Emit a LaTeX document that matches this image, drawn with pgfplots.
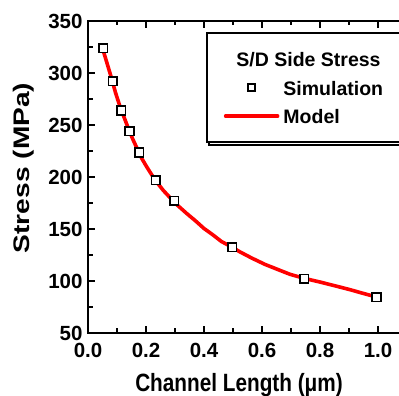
\documentclass[border=0pt]{standalone}
\usepackage{pgfplots}
\pgfplotsset{compat=1.18}
\usepackage{fontspec}
\setmainfont{Liberation Sans}

\begin{document}
\begin{tikzpicture}
\begin{axis}[
  scale only axis,
  width=319pt, height=312pt,
  xmin=0, xmax=1.1,
  ymin=50, ymax=350,
  clip=false,
  xtick={0,0.2,0.4,0.6,0.8,1.0},
  ytick={50,100,150,200,250,300,350},
  minor x tick num=1,
  minor y tick num=1,
  tick align=inside,
  major tick length=7pt,
  minor tick length=4.5pt,
  axis line style={line width=1.6pt},
  every tick/.style={black, line width=1.5pt},
  /pgf/number format/assume math mode=true,
  xticklabel style={font=\bfseries\fontsize{20.5}{21}\selectfont, yshift=-6.5pt,
    /pgf/number format/.cd, fixed, fixed zerofill, precision=1},
  yticklabel style={font=\bfseries\fontsize{20.5}{21}\selectfont, xshift=-2pt},
  xlabel={\scalebox{0.83}[1]{Channel Length (μm)}},
  ylabel={\scalebox{1.25}[1]{Stress (MPa)}},
  xlabel style={font=\bfseries\fontsize{25}{26}\selectfont,
    at={(axis description cs:0.4734,-0.189)}, anchor=base},
  ylabel style={font=\bfseries\fontsize{22.5}{24}\selectfont,
    at={(axis description cs:-0.2006,0.529)}, anchor=center},
  legend style={
    at={(axis description cs:0.370,0.9647)}, anchor=north west,
    draw=black, line width=1.6pt, fill=white,
    inner xsep=17pt, inner ysep=14pt,
    row sep=4.7pt, column sep=4pt,
    font=\bfseries\fontsize{19.5}{21}\selectfont,
    cells={anchor=west},
    nodes={inner sep=0pt, text height=19.5pt, text depth=4.5pt},
  },
]
% legend title row
\addlegendimage{empty legend}
\addlegendentry{\hspace*{-47pt}S/D Side Stress}

% simulated stress values
\addplot[only marks, mark=square*, mark size=4.3pt,
  mark options={draw=black, fill=white, line width=1.6pt},
  legend image code/.code={
    \path[draw=none] (0pt,0pt) -- (52pt,0pt);
    \path[draw=none, mark=square*, mark size=3.6pt,
      mark options={draw=black, fill=white, line width=2.2pt}]
      plot coordinates {(26pt,0pt)};
  }]
coordinates {
  (0.052,324) (0.085,292) (0.114,264) (0.143,244) (0.176,223.5)
  (0.234,197) (0.297,177) (0.497,132.5) (0.746,102) (0.995,84.6)
};
\addlegendentry{Simulation}

% analytical model
\addplot[red, line width=3.6pt, line join=round, line cap=round,
  legend image code/.code={
    \draw[red, line width=3.6pt] (0pt,0pt) -- (52pt,0pt);
  }]
coordinates {
  (0.052,322) (0.065,310) (0.080,296) (0.095,281) (0.110,268)
  (0.125,257) (0.140,246) (0.155,236) (0.170,227) (0.185,218)
  (0.202,210) (0.220,202) (0.240,194) (0.260,187) (0.280,181)
  (0.300,175) (0.320,170) (0.340,165) (0.370,158) (0.400,150.5)
  (0.430,144.5) (0.460,138) (0.497,132.5) (0.524,128) (0.565,122)
  (0.610,116) (0.655,111) (0.697,106.4) (0.746,102.5) (0.800,99)
  (0.850,95.5) (0.903,91.7) (0.950,88) (0.995,84.6)
};
\addlegendentry{Model}

% drop shadow along the lower edge of the legend frame
\draw[line width=1.8pt] (axis description cs:0.3794,0.6106)
  |- (axis description cs:1.0,0.6016);
\end{axis}
\pgfresetboundingbox
\useasboundingbox (-88pt,-63pt) rectangle (311pt,333pt);
\end{tikzpicture}
\end{document}
